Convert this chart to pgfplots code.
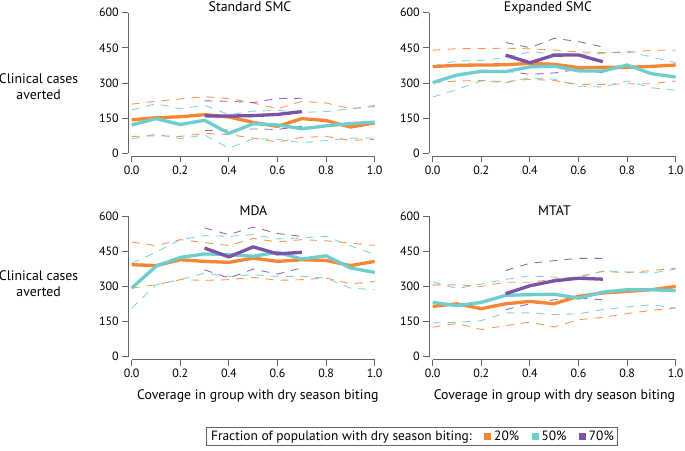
\documentclass[border=0pt]{standalone}
\usepackage{pgfplots}
\usepackage{pgfplotstable}
\pgfplotsset{compat=1.18}
\usepackage{fontspec}
\setmainfont{PT Sans}
\definecolor{corange}{RGB}{245,134,52}
\definecolor{ccyan}{RGB}{110,205,205}
\definecolor{cpurple}{RGB}{123,82,166}
\definecolor{axgray}{RGB}{100,100,100}

% Standard SMC
\pgfplotstableread{
x olo o ohi clo c chi
0.0 72 143 210 62 121 185
0.1 75 152 222 82 148 212
0.2 72 156 232 63 123 190
0.3 85 165 242 78 141 205
0.4 80 155 234 22 85 165
0.5 65 132 215 62 126 180
0.6 48 115 190 60 121 183
0.7 68 148 222 45 105 175
0.8 72 140 215 55 117 178
0.9 55 112 190 65 127 190
1.0 60 130 200 65 133 205
}\tStd
\pgfplotstableread{
x plo p phi
0.3 97 160 224
0.4 100 159 222
0.5 104 161 217
0.6 102 166 234
0.7 115 178 235
}\pStd
% Expanded SMC
\pgfplotstableread{
x olo o ohi clo c chi
0.0 301 370 440 240 302 373
0.1 309 376 447 273 334 394
0.2 311 377 447 309 350 397
0.3 306 378 449 301 349 409
0.4 316 384 446 323 369 433
0.5 311 380 441 316 372 426
0.6 294 366 433 287 352 423
0.7 294 367 430 283 351 426
0.8 297 367 430 309 377 437
0.9 297 371 440 280 340 411
1.0 309 377 440 269 326 387
}\tExp
\pgfplotstableread{
x plo p phi
0.3 352 419 473
0.4 337 387 451
0.5 343 419 491
0.6 359 420 477
0.7 344 391 454
}\pExp
% MDA
\pgfplotstableread{
x olo o ohi clo c chi
0.0 293 393 490 207 293 400
0.1 307 389 474 307 386 446
0.2 329 414 500 329 424 500
0.3 326 407 487 357 439 517
0.4 329 403 475 343 436 514
0.5 339 421 505 350 429 521
0.6 326 407 490 343 446 503
0.7 329 414 500 343 417 507
0.8 336 411 495 336 431 514
0.9 311 389 485 293 379 474
1.0 321 407 475 286 360 436
}\tMDA
\pgfplotstableread{
x plo p phi
0.3 371 464 550
0.4 336 426 521
0.5 374 469 554
0.6 353 439 526
0.7 379 446 514
}\pMDA
% MTAT
\pgfplotstableread{
x olo o ohi clo c chi
0.0 126 215 307 144 232 320
0.1 142 226 307 147 218 291
0.2 116 205 300 154 232 310
0.3 133 226 318 187 262 330
0.4 147 236 318 187 265 345
0.5 127 226 331 180 267 340
0.6 158 258 342 183 250 335
0.7 168 272 364 201 276 367
0.8 184 279 359 212 286 362
0.9 198 286 368 222 286 357
1.0 208 300 378 208 282 374
}\tMTAT
\pgfplotstableread{
x plo p phi
0.3 201 269 368
0.4 226 303 399
0.5 243 324 410
0.6 250 335 420
0.7 243 331 420
}\pMTAT

\newcommand{\fs}{\fontsize{13.8}{16}\selectfont}
\newcommand{\ft}{\fontsize{12}{14}\selectfont}
\newcommand{\fl}{\fontsize{13.4}{16}\selectfont}

\pgfplotsset{
  panel/.style={
    scale only axis, width=243pt, height=140.5pt,
    xmin=0, xmax=1, ymin=0, ymax=600,
    xtick={0,0.2,0.4,0.6,0.8,1},
    ytick={0,150,300,450,600},
    axis x line*=bottom, axis y line*=left,
    axis x line shift=3pt, axis y line shift=3.5pt,
    axis line style={axgray, line width=0.9pt},
    every tick/.style={axgray, line width=0.9pt},
    tick align=outside, major tick length=6pt,
    xticklabel style={/pgf/number format/.cd, fixed, fixed zerofill, precision=1},
    /pgf/number format/assume math mode=true,
    tick label style={font=\ft},
    clip=false,
    anchor=south west,
  },
  dsh/.style={line width=0.9pt, dash pattern=on 8pt off 7pt, opacity=0.85, forget plot},
  sol/.style={line width=3.3pt, forget plot, line join=round},
  sqO/.style={legend image code/.code={\path[draw=none] (0pt,0pt) -- (17pt,0pt); \fill[corange] (11pt,-3pt) rectangle (17pt,3pt);}},
  sqC/.style={legend image code/.code={\path[draw=none] (0pt,0pt) -- (17pt,0pt); \fill[ccyan] (11pt,-3pt) rectangle (17pt,3pt);}},
  sqP/.style={legend image code/.code={\path[draw=none] (0pt,0pt) -- (17pt,0pt); \fill[cpurple] (11pt,-3pt) rectangle (17pt,3pt);}},
}
\newcommand{\series}[2]{%
  \addplot[dsh, corange] table[x=x,y=olo]{#1};
  \addplot[dsh, corange] table[x=x,y=ohi]{#1};
  \addplot[dsh, ccyan] table[x=x,y=clo]{#1};
  \addplot[dsh, ccyan] table[x=x,y=chi]{#1};
  \addplot[dsh, cpurple] table[x=x,y=plo]{#2};
  \addplot[dsh, cpurple] table[x=x,y=phi]{#2};
  \addplot[sol, corange] table[x=x,y=o]{#1};
  \addplot[sol, ccyan] table[x=x,y=c]{#1};
  \addplot[sol, cpurple] table[x=x,y=p]{#2};
}

\begin{document}
\begin{tikzpicture}
\path (0,0) rectangle (685pt,450pt);
% Standard SMC
\begin{axis}[panel, at={(131.7pt,296.7pt)}]
  \series{\tStd}{\pStd}
  \node[font=\fs, anchor=base, yshift=1.2pt] at (axis description cs:0.487,1) {Standard SMC};
  \node[font=\fs, align=center] at (axis description cs:-0.383,0.477) {Clinical cases\\averted};
\end{axis}
% Expanded SMC
\begin{axis}[panel, at={(432.7pt,296.7pt)}]
  \series{\tExp}{\pExp}
  \node[font=\fs, anchor=base, yshift=1.2pt] at (axis description cs:0.4745,1) {Expanded SMC};
\end{axis}
% MDA
\begin{axis}[panel, at={(131.7pt,93.3pt)},
  legend columns=4,
  legend style={at={(axis description cs:1.1535,-0.568)}, anchor=center,
    draw=axgray, line width=0.8pt, font=\fl, inner sep=1.5pt,
    /tikz/every odd column/.append style={column sep=1pt}},
  ]
  \series{\tMDA}{\pMDA}
  \node[font=\fs, anchor=base, yshift=1pt] at (axis description cs:0.501,1) {MDA};
  \node[font=\fs, align=center] at (axis description cs:-0.383,0.517) {Clinical cases\\averted};
  \node[font=\fs, anchor=base, yshift=-42.6pt] at (axis description cs:0.519,0) {Coverage in group with dry season biting};
  \addlegendimage{empty legend}
  \addlegendentry{Fraction of population with dry season biting:}
  \addlegendimage{sqO}
  \addlegendentry{20\%}
  \addlegendimage{sqC}
  \addlegendentry{50\%}
  \addlegendimage{sqP}
  \addlegendentry{70\%}
\end{axis}
% MTAT
\begin{axis}[panel, at={(432.7pt,93.3pt)}]
  \series{\tMTAT}{\pMTAT}
  \node[font=\fs, anchor=base, yshift=1pt] at (axis description cs:0.501,1) {MTAT};
  \node[font=\fs, anchor=base, yshift=-42.6pt] at (axis description cs:0.501,0) {Coverage in group with dry season biting};
\end{axis}
\pgfresetboundingbox
\path[use as bounding box] (0,0) rectangle (685pt,450pt);
\end{tikzpicture}
\end{document}
